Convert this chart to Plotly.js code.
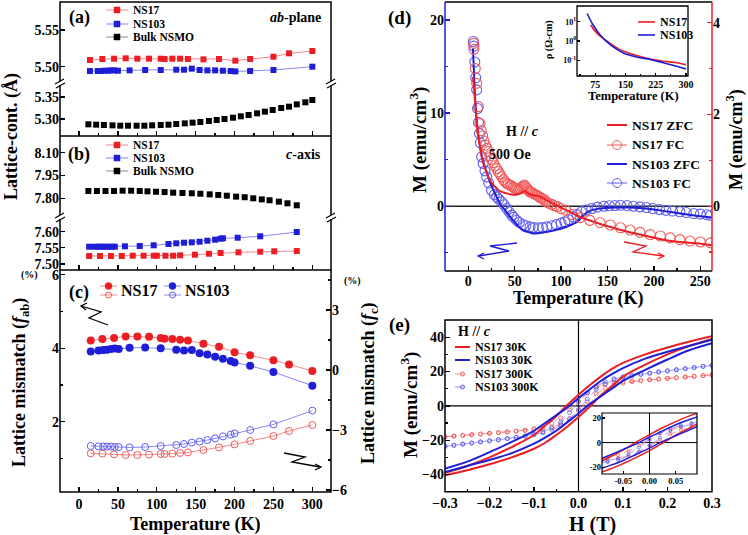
<!DOCTYPE html>
<html>
<head>
<meta charset="utf-8">
<script src="https://cdn.plot.ly/plotly-3.0.1.min.js"></script>
<style>body{margin:0;background:#fff}#plot{width:748px;height:535px}</style>
</head>
<body>
<div id="plot"></div>
<script>
// ---- (a) ab-plane lattice constants
var aT17 = [14,30,45,60,75,90,105,110,120,130,140,160,180,201,220,250,270,300];
var aNS17 = [5.5091,5.5105,5.5109,5.5114,5.5109,5.5109,5.5109,5.5105,5.5109,5.5109,5.5105,5.5100,5.5105,5.5082,5.5105,5.5136,5.5182,5.5214];
var aT103 = [14,24,28,32,37,41,45,50,65,85,105,125,135,145,155,165,175,185,195,201,220,250,300];
var aNS103 = [5.4941,5.4941,5.4941,5.4945,5.4945,5.4950,5.4950,5.4945,5.4950,5.4955,5.4955,5.4959,5.4959,5.4973,5.4955,5.4950,5.4950,5.4945,5.4941,5.4936,5.4941,5.4955,5.5000];
var aTbulk = [12,22,32,43,53,63,74,84,94,105,115,125,136,146,156,167,177,187,198,208,218,229,239,249,260,270,280,291,300];
var aBulk = [5.2879,5.2871,5.2864,5.2856,5.2848,5.2848,5.2848,5.2848,5.2856,5.2864,5.2871,5.2886,5.2901,5.2917,5.2932,5.2955,5.2977,5.3000,5.3030,5.3061,5.3091,5.3129,5.3167,5.3205,5.3250,5.3280,5.3333,5.3379,5.3432];

// ---- (b) c-axis lattice constants
var bTbulk = [12,23,34,45,56,67,78,88,99,110,121,133,145,156,168,179,190,202,213,224,235,245,257,268,280];
var bBulk = [7.848,7.848,7.848,7.848,7.850,7.850,7.848,7.846,7.843,7.841,7.837,7.835,7.833,7.830,7.826,7.822,7.817,7.811,7.807,7.800,7.793,7.787,7.778,7.767,7.754];
var bT103 = [13,20,25,29,33,38,42,46,59,78,96,115,125,135,145,155,165,175,182,185,204,233,280];
var bNS103 = [7.5535,7.5535,7.5535,7.5535,7.5535,7.5535,7.5535,7.5535,7.5547,7.5557,7.5578,7.5619,7.5640,7.5659,7.5671,7.5690,7.5721,7.5752,7.5783,7.5795,7.5814,7.5857,7.5990];
var bT17 = [13,27,41,55,69,83,96,100,111,121,130,149,167,182,205,233,251,280];
var bNS17 = [7.5247,7.5247,7.5247,7.5247,7.5256,7.5256,7.5256,7.5256,7.5256,7.5256,7.5268,7.5287,7.5318,7.5340,7.5361,7.5380,7.5392,7.5402];

// ---- (c) lattice mismatch
var cT17 = [15,30,45,60,75,90,105,110,120,130,140,160,180,200,220,250,270,300];
var cFab17 = [4.21,4.25,4.28,4.32,4.32,4.31,4.28,4.26,4.25,4.23,4.21,4.12,4.04,3.89,3.81,3.67,3.56,3.38];
var cFc17 = [-4.17,-4.18,-4.22,-4.25,-4.25,-4.23,-4.2,-4.2,-4.18,-4.15,-4.12,-4.0,-3.87,-3.72,-3.55,-3.3,-3.05,-2.75];
var cT103 = [15,25,31,36,41,46,51,65,85,105,125,135,145,155,165,175,185,195,200,220,250,300];
var cFab103 = [3.91,3.94,3.95,3.96,3.98,3.99,3.98,4.01,4.02,4.0,3.96,3.94,3.95,3.86,3.83,3.77,3.71,3.65,3.61,3.52,3.35,2.98];
var cFc103 = [-3.8,-3.82,-3.82,-3.83,-3.83,-3.85,-3.85,-3.87,-3.85,-3.8,-3.75,-3.7,-3.63,-3.58,-3.5,-3.42,-3.32,-3.23,-3.17,-3.0,-2.72,-2.03];

// ---- (d) M(T), NS103 on left axis, NS17 on right axis
var dTzfc103 = [5,6.5,8,10,12.6,15,18,23.4,28.8,34,39.6,45,52,59,66.5,71,77,92,106,117,124,131,142,156,174,192,210,228,250,262];
var dMzfc103 = [17.0,13.5,10.5,8.2,6.5,5.2,4.2,2.6,1.36,0.3,-0.43,-1.15,-1.94,-2.6,-2.83,-2.94,-2.87,-2.6,-2.2,-1.7,-0.97,-0.5,-0.25,-0.14,-0.14,-0.25,-0.5,-0.79,-1.07,-1.2];
var dTfc103 = [5.4,6,7,8,9,10,11,12,13,14.4,16,18,19.8,22,25,28,30.6,33,36,38.5,41.4,44,46.8,49,52,55,59,62,66.5,70,75.5,80,84.5,90,95,100,104,108,113,117,122,127,133,139,146,152,158,164,171,178,185,192,199,206,213,220,228,235,243,250,257,261];
var dMfc103 = [17.7,17.2,15.5,13.8,12.5,10.5,9.0,7.8,6.8,5.3,4.6,3.8,3.15,2.5,1.7,1.25,1.0,0.75,0.47,0.15,-0.25,-0.6,-0.97,-1.2,-1.5,-1.75,-1.97,-2.1,-2.22,-2.3,-2.33,-2.3,-2.22,-2.1,-1.97,-1.82,-1.68,-1.45,-1.15,-0.9,-0.6,-0.42,-0.25,-0.1,0,0.05,0.08,0.1,0.07,0,-0.07,-0.14,-0.25,-0.35,-0.45,-0.52,-0.6,-0.68,-0.79,-0.85,-0.92,-0.97];
var dTzfc17 = [4.7,5.5,6.5,7.2,8.5,9.7,11,12.6,14,16.2,18.5,21.6,24,27,30,34,38,41.4,45,48.6,52,56,59,61,63,64.7,67,70,75.5,81,88,95,106,120,138,156,174,192,210,228,246,262];
var dMzfc17 = [2.82,2.75,2.5,2.31,2.0,1.73,1.5,1.29,1.12,0.93,0.8,0.64,0.55,0.46,0.4,0.33,0.3,0.28,0.26,0.25,0.25,0.28,0.31,0.33,0.3,0.28,0.26,0.24,0.22,0.17,0.09,0.02,-0.09,-0.23,-0.36,-0.47,-0.57,-0.65,-0.73,-0.78,-0.81,-0.85];
var dTfc17 = [6,6,7.5,9,10.8,12.6,14,15.5,17,18.5,20,21.6,23.3,25,27,28.8,30.6,32.4,34.2,36,37.8,39.6,41.3,43,45,46.8,48.6,50.4,52.2,54,55.8,57.5,59,60.4,62,63.5,65,66.5,68.2,70,71.8,73.7,75.5,77.3,79.1,81,82.8,84.5,87,90,93,96,100,105,111.5,120.5,131,142,153,164,174.5,185,196,207,217.6,228,239,250,261];
var dMfc17 = [3.42,3.55,3.0,2.68,2.17,1.8,1.65,1.53,1.42,1.33,1.26,1.19,1.1,1.02,0.95,0.88,0.82,0.75,0.7,0.64,0.58,0.53,0.5,0.48,0.46,0.44,0.41,0.39,0.38,0.37,0.38,0.41,0.44,0.46,0.42,0.38,0.34,0.31,0.3,0.28,0.26,0.24,0.22,0.19,0.17,0.15,0.12,0.09,0.06,0.04,0.01,-0.01,-0.05,-0.09,-0.18,-0.25,-0.31,-0.36,-0.41,-0.47,-0.52,-0.57,-0.62,-0.65,-0.69,-0.73,-0.76,-0.78,-0.8];

// ---- (d) inset resistivity
var rT17 = [64,79,104,137,178,211,244,277,300];
var rRho17 = [6.76,2.57,1.0,0.355,0.174,0.117,0.0891,0.0741,0.0575];
var rT103 = [55,70,87,112,145,178,211,244,277,300];
var rRho103 = [26.9,6.76,2.09,0.646,0.240,0.148,0.110,0.0741,0.0490,0.0355];

// ---- (e) M(H) loops, descending branch then ascending branch
var hDesc = [0.3,0.25,0.2,0.15,0.1,0.075,0.05,0.025,0,-0.025,-0.05,-0.075,-0.1,-0.15,-0.2,-0.25,-0.3];
var hAsc = [-0.3,-0.25,-0.2,-0.15,-0.1,-0.075,-0.05,-0.025,0,0.025,0.05,0.075,0.1,0.15,0.2,0.25,0.3];
var m17_30Kd = [40.5,37.5,34,30,25,21.5,17,12,6.5,0.5,-6,-11.5,-17,-24,-30,-35,-39];
var m17_30Ka = [-40.5,-37.5,-34,-30,-25,-21.5,-17,-12,-6.5,-0.5,6,11.5,17,24,30,35,39];
var m103_30Kd = [38.5,35,31.5,27.5,22,18.5,14.5,9.5,4.5,-1,-5.5,-10,-14.5,-21,-27,-32.5,-36.5];
var m103_30Ka = [-38.5,-35,-31.5,-27.5,-22,-18.5,-14.5,-9.5,-4.5,1,5.5,10,14.5,21,27,32.5,36.5];
var h3Desc = [0.3,0.28,0.26,0.24,0.22,0.2,0.18,0.16,0.14,0.12,0.1,0.08,0.06,0.04,0.02,0,-0.02,-0.04,-0.06,-0.08,-0.1,-0.12,-0.14,-0.16,-0.18,-0.2,-0.22,-0.24,-0.26,-0.28,-0.3];
var h3Asc = [-0.3,-0.28,-0.26,-0.24,-0.22,-0.2,-0.18,-0.16,-0.14,-0.12,-0.1,-0.08,-0.06,-0.04,-0.02,0,0.02,0.04,0.06,0.08,0.1,0.12,0.14,0.16,0.18,0.2,0.22,0.24,0.26,0.28,0.3];
var m17_300Kd = [18.0,17.6,17.2,16.8,16.4,16.0,15.6,15.2,14.8,14.4,13.9,13.4,12.5,10.7,7.5,2.8,-2.4,-7.0,-10.2,-12.0,-13.2,-14.1,-14.7,-15.2,-15.6,-16.0,-16.4,-16.8,-17.2,-17.6,-18.0];
var m17_300Ka = [-18.0,-17.6,-17.2,-16.8,-16.4,-16.0,-15.6,-15.2,-14.8,-14.4,-13.9,-13.4,-12.5,-10.7,-7.5,-2.8,2.4,7.0,10.2,12.0,13.2,14.1,14.7,15.2,15.6,16.0,16.4,16.8,17.2,17.6,18.0];
var m103_300Kd = [23.6,23.0,22.3,21.7,21.0,20.4,19.8,19.1,18.4,17.7,16.9,15.8,14.1,11.4,7.6,2.2,-4.0,-9.6,-12.9,-15.1,-16.5,-17.5,-18.3,-19.0,-19.7,-20.3,-21.0,-21.6,-22.3,-23.0,-23.6];
var m103_300Ka = [-23.6,-23.0,-22.3,-21.7,-21.0,-20.4,-19.8,-19.1,-18.4,-17.7,-16.9,-15.8,-14.1,-11.4,-7.6,-2.2,4.0,9.6,12.9,15.1,16.5,17.5,18.3,19.0,19.7,20.3,21.0,21.6,22.3,23.0,23.6];

var RED = 'rgb(235,30,36)', BLUE = 'rgb(30,30,215)';
var LRED = 'rgb(245,135,135)', LBLUE = 'rgb(135,135,245)';
var ORED = 'rgb(240,90,90)', OBLUE = 'rgb(95,95,240)';
var F = 'Liberation Serif, Times New Roman, serif';

// pixel -> paper helpers
function px(x) { return x / 748; }
function py(y) { return 1 - y / 535; }
function ydom(a, b) { return [py(b), py(a)]; }
function xdom(a, b) { return [px(a), px(b)]; }

function tf(s) { return {family: F, size: s || 14, color: '#000', weight: 'bold'}; }

function ax(o) {
  var base = {showgrid: false, zeroline: false, showline: false, ticks: 'inside',
    ticklen: 5, tickwidth: 1.3, tickcolor: '#000', tickfont: tf(14)};
  for (var k in o) base[k] = o[k];
  return base;
}

function loop(hd, md, ha, ma) {
  return {x: hd.concat([null], ha), y: md.concat([null], ma)};
}

var traces = [];
function add(t) { t.showlegend = false; t.cliponaxis = true; traces.push(t); }

// (a)
add({x: aT17, y: aNS17, xaxis: 'x2', yaxis: 'y2', mode: 'lines+markers',
  line: {color: LRED, width: 1}, marker: {symbol: 'square', size: 6, color: RED}});
add({x: aT103, y: aNS103, xaxis: 'x2', yaxis: 'y2', mode: 'lines+markers',
  line: {color: LBLUE, width: 1}, marker: {symbol: 'square', size: 6, color: BLUE}});
add({x: aTbulk, y: aBulk, xaxis: 'x2', yaxis: 'y3', mode: 'markers',
  marker: {symbol: 'square', size: 6, color: '#000'}});
// (b)
add({x: bTbulk, y: bBulk, xaxis: 'x3', yaxis: 'y4', mode: 'markers',
  marker: {symbol: 'square', size: 6, color: '#000'}});
add({x: bT103, y: bNS103, xaxis: 'x3', yaxis: 'y5', mode: 'lines+markers',
  line: {color: LBLUE, width: 1}, marker: {symbol: 'square', size: 6, color: BLUE}});
add({x: bT17, y: bNS17, xaxis: 'x3', yaxis: 'y5', mode: 'lines+markers',
  line: {color: LRED, width: 1}, marker: {symbol: 'square', size: 6, color: RED}});
// (c)
add({x: cT17, y: cFab17, xaxis: 'x', yaxis: 'y', mode: 'lines+markers',
  line: {color: LRED, width: 1}, marker: {size: 8, color: RED}});
add({x: cT103, y: cFab103, xaxis: 'x', yaxis: 'y', mode: 'lines+markers',
  line: {color: LBLUE, width: 1}, marker: {size: 8, color: BLUE}});
add({x: cT17, y: cFc17, xaxis: 'x', yaxis: 'y6', mode: 'lines+markers',
  line: {color: LRED, width: 1}, marker: {symbol: 'circle-open', size: 7, color: ORED, line: {width: 1}}});
add({x: cT103, y: cFc103, xaxis: 'x', yaxis: 'y6', mode: 'lines+markers',
  line: {color: LBLUE, width: 1}, marker: {symbol: 'circle-open', size: 7, color: OBLUE, line: {width: 1}}});
// (d)
add({x: dTfc17, y: dMfc17, xaxis: 'x4', yaxis: 'y8', mode: 'markers',
  marker: {symbol: 'circle-open', size: 10, color: ORED, line: {width: 1.1}}});
add({x: dTfc103, y: dMfc103, xaxis: 'x4', yaxis: 'y7', mode: 'markers',
  marker: {symbol: 'circle-open', size: 10, color: OBLUE, line: {width: 1.1}}});
add({x: dTzfc17, y: dMzfc17, xaxis: 'x4', yaxis: 'y8', mode: 'lines',
  line: {color: RED, width: 2, shape: 'spline'}});
add({x: dTzfc103, y: dMzfc103, xaxis: 'x4', yaxis: 'y7', mode: 'lines',
  line: {color: BLUE, width: 2, shape: 'spline'}});
// (d) inset
add({x: rT17, y: rRho17, xaxis: 'x5', yaxis: 'y9', mode: 'lines',
  line: {color: RED, width: 1.6, shape: 'spline'}});
add({x: rT103, y: rRho103, xaxis: 'x5', yaxis: 'y9', mode: 'lines',
  line: {color: BLUE, width: 1.6, shape: 'spline'}});
// (e) main and inset
[['x6', 'y10', 4, 2], ['x7', 'y11', 3, 1.5]].forEach(function (s) {
  var l;
  l = loop(h3Desc, m17_300Kd, h3Asc, m17_300Ka);
  add({x: l.x, y: l.y, xaxis: s[0], yaxis: s[1], mode: 'lines+markers', connectgaps: false,
    line: {color: LRED, width: 0.8, dash: 'dash'}, marker: {symbol: 'circle-open', size: s[2], color: ORED, line: {width: 0.8}}});
  l = loop(h3Desc, m103_300Kd, h3Asc, m103_300Ka);
  add({x: l.x, y: l.y, xaxis: s[0], yaxis: s[1], mode: 'lines+markers', connectgaps: false,
    line: {color: LBLUE, width: 0.8, dash: 'dash'}, marker: {symbol: 'circle-open', size: s[2], color: OBLUE, line: {width: 0.8}}});
  l = loop(hDesc, m17_30Kd, hAsc, m17_30Ka);
  add({x: l.x, y: l.y, xaxis: s[0], yaxis: s[1], mode: 'lines', connectgaps: false,
    line: {color: RED, width: s[3], shape: 'spline'}});
  l = loop(hDesc, m103_30Kd, hAsc, m103_30Ka);
  add({x: l.x, y: l.y, xaxis: s[0], yaxis: s[1], mode: 'lines', connectgaps: false,
    line: {color: BLUE, width: s[3], shape: 'spline'}});
});

var shapes = [], annotations = [];
function ln(x0, y0, x1, y1, c, w, layer) {
  shapes.push({type: 'line', xref: 'paper', yref: 'paper', x0: px(x0), y0: py(y0), x1: px(x1), y1: py(y1),
    line: {color: c || '#000', width: w || 1.5}, layer: layer || 'above'});
}
function box(x0, y0, x1, y1, w) {
  shapes.push({type: 'rect', xref: 'paper', yref: 'paper', x0: px(x0), y0: py(y1), x1: px(x1), y1: py(y0),
    line: {color: '#000', width: w || 1.5}, layer: 'above'});
}
function path(pts, c, w) {
  var d = pts.map(function (p, i) { return (i ? 'L' : 'M') + px(p[0]).toFixed(5) + ',' + py(p[1]).toFixed(5); }).join(' ');
  shapes.push({type: 'path', xref: 'paper', yref: 'paper', path: d, line: {color: c, width: w || 1.3}, layer: 'above'});
}
function txt(x, y, s, size, o) {
  var a = {xref: 'paper', yref: 'paper', x: px(x), y: py(y), text: s, showarrow: false,
    font: {family: F, size: size, color: '#000', weight: 'bold'}, xanchor: 'center', yanchor: 'middle'};
  for (var k in o || {}) a[k] = o[k];
  annotations.push(a);
}
function sym(x, y, kind, color, size, open) {
  var h = size / 2;
  shapes.push({type: kind === 'square' ? 'rect' : 'circle', xref: 'paper', yref: 'paper',
    x0: px(x - h), x1: px(x + h), y0: py(y + h), y1: py(y - h), layer: 'above',
    fillcolor: open ? 'rgba(0,0,0,0)' : color, line: {color: color, width: open ? 1 : 0.5}});
}
// legend entry built from a line sample, a symbol and a label
function entry(x0, x1, y, lc, lw, kind, mc, ms, open, label, size, dash) {
  shapes.push({type: 'line', xref: 'paper', yref: 'paper', x0: px(x0), x1: px(x1), y0: py(y), y1: py(y),
    line: {color: lc, width: lw, dash: dash || 'solid'}, layer: 'above'});
  if (kind) sym((x0 + x1) / 2, y, kind, mc, ms, open);
  txt(x1 + 3, y, label, size, {xanchor: 'left'});
}
function brk(x, y) {
  shapes.push({type: 'rect', xref: 'paper', yref: 'paper', x0: px(x - 4), x1: px(x + 4), y0: py(y + 2), y1: py(y - 2),
    fillcolor: '#fff', line: {width: 0}, layer: 'above'});
  ln(x - 5, y + 1, x + 4, y - 4, '#000', 1.2);
  ln(x - 4, y + 5, x + 5, y, '#000', 1.2);
}

// frames
box(60, 2, 331, 492);
ln(60, 136, 331, 136);
ln(60, 270, 331, 270);
brk(60, 83); brk(331, 83); brk(60, 217); brk(331, 217);
ln(445, 2, 712, 2); ln(445, 271, 712, 271);
ln(445, 2, 445, 271, BLUE); ln(712, 2, 712, 271, RED);
box(577, 6, 688, 76, 1.3);
box(445, 320, 712, 491.7);
box(602, 413, 697, 474, 1.2);
// reference lines
shapes.push({type: 'line', xref: 'paper', yref: 'y7', x0: px(445), x1: px(712), y0: 0, y1: 0,
  line: {color: '#222', width: 1.6}, layer: 'below'});
shapes.push({type: 'line', xref: 'x6', yref: 'y10', x0: -0.3, x1: 0.3, y0: 0, y1: 0, line: {color: '#000', width: 1.2}, layer: 'below'});
shapes.push({type: 'line', xref: 'x6', yref: 'y10', x0: 0, x1: 0, y0: -50, y1: 50, line: {color: '#000', width: 1.2}, layer: 'below'});
shapes.push({type: 'line', xref: 'x7', yref: 'y11', x0: -0.0906, x1: 0.0906, y0: 0, y1: 0, line: {color: '#000', width: 1}, layer: 'below'});
shapes.push({type: 'line', xref: 'x7', yref: 'y11', x0: 0, x1: 0, y0: -25.5, y1: 24, line: {color: '#000', width: 1}, layer: 'below'});

// squiggle arrows
path([[108, 325], [89, 318], [101, 312], [81, 306]], '#000');
path([[87, 303], [81, 306], [86, 310]], '#000');
path([[284, 453], [305, 457], [292, 462], [320, 467]], '#000');
path([[315, 464], [321, 467], [315, 470]], '#000');
path([[517, 243], [490, 246], [509, 251], [479, 256]], BLUE);
path([[484, 253], [478, 256], [484, 259]], BLUE);
path([[624, 242], [646, 246], [633, 252], [663, 256]], RED);
path([[658, 253], [664, 256], [658, 259]], RED);

// legends
entry(106, 128, 10, LRED, 1, 'square', RED, 6, false, 'NS17', 11.5);
entry(106, 128, 24, LBLUE, 1, 'square', BLUE, 6, false, 'NS103', 11.5);
entry(106, 128, 37, '#888', 1, 'square', '#000', 6, false, 'Bulk NSMO', 11.5);
entry(106, 128, 145, LRED, 1, 'square', RED, 6, false, 'NS17', 11.5);
entry(106, 128, 158, LBLUE, 1, 'square', BLUE, 6, false, 'NS103', 11.5);
entry(106, 128, 171, '#888', 1, 'square', '#000', 6, false, 'Bulk NSMO', 11.5);
// (c) legend, filled over open sample
ln(100, 286, 117, 286, LRED, 1); sym(108.5, 286, 'circle', RED, 7, false);
ln(100, 295, 117, 295, LRED, 1); sym(108.5, 295, 'circle', ORED, 6, true);
txt(119, 290, 'NS17', 16, {xanchor: 'left'});
ln(164, 286, 181, 286, LBLUE, 1); sym(172.5, 286, 'circle', BLUE, 7, false);
ln(164, 295, 181, 295, LBLUE, 1); sym(172.5, 295, 'circle', OBLUE, 6, true);
txt(183, 290, 'NS103', 16, {xanchor: 'left'});
// (d) legend
entry(607, 627, 125, RED, 2, null, null, 0, false, 'NS17 ZFC', 13.5);
entry(607, 627, 145, ORED, 1, 'circle', ORED, 9, true, 'NS17 FC', 13.5);
entry(607, 627, 164, BLUE, 2, null, null, 0, false, 'NS103 ZFC', 13.5);
entry(607, 627, 183, OBLUE, 1, 'circle', OBLUE, 9, true, 'NS103 FC', 13.5);
entry(638, 655, 22, RED, 1.6, null, null, 0, false, 'NS17', 12);
entry(638, 655, 35, BLUE, 1.6, null, null, 0, false, 'NS103', 12);
// (e) legend
txt(456, 331, 'H // <i>c</i>', 14, {xanchor: 'left'});
entry(455, 470, 347, RED, 2, null, null, 0, false, 'NS17 30K', 12);
entry(455, 470, 360, BLUE, 2, null, null, 0, false, 'NS103 30K', 12);
entry(455, 470, 374, LRED, 0.9, 'circle', ORED, 4, true, 'NS17 300K', 12, 'dash');
entry(455, 470, 387, LBLUE, 0.9, 'circle', OBLUE, 4, true, 'NS103 300K', 12, 'dash');

// labels
txt(79, 17, '(a)', 18);
txt(323, 18, '<i>ab</i>-plane', 14, {xanchor: 'right'});
txt(79, 155, '(b)', 18);
txt(323, 155, '<i>c</i>-axis', 14, {xanchor: 'right'});
txt(79, 292, '(c)', 18);
txt(29, 275, '(%)', 10);
txt(352, 281, '(%)', 10);
txt(12, 137, 'Lattice-cont. (Å)', 18, {textangle: -90});
txt(20, 383, 'Lattice mismatch (<i>f</i><sub>ab</sub>)', 18, {textangle: -90});
txt(369, 383, 'Lattice mismatch (<i>f</i><sub>c</sub>)', 18, {textangle: -90});
txt(195, 524, 'Temperature (K)', 18);
txt(399, 18, '(d)', 19);
txt(522, 131, 'H // <i>c</i>', 14);
txt(510, 154, '500 Oe', 14);
txt(418, 140, 'M (emu/cm<sup>3</sup>)', 19, {textangle: -90});
txt(735, 140, 'M (emu/cm<sup>3</sup>)', 18, {textangle: -90});
txt(578, 298, 'Temperature (K)', 18);
txt(549, 40, 'ρ (Ω-cm)', 10, {textangle: -90});
txt(633, 96, 'Temperature (K)', 12.5);
txt(399, 325, '(e)', 19);
txt(409, 405, 'M (emu/cm<sup>3</sup>)', 19, {textangle: -90});
txt(592, 524, 'H (T)', 20);

var layout = {
  width: 748, height: 535,
  margin: {l: 0, r: 0, t: 0, b: 0},
  paper_bgcolor: '#fff', plot_bgcolor: 'rgba(0,0,0,0)',
  showlegend: false,
  font: {family: F, color: '#000'},
  // left column
  xaxis: ax({domain: xdom(60, 331), range: [-24.5, 324], anchor: 'y', dtick: 50, tick0: 0,
    minor: {ticks: 'inside', ticklen: 3, dtick: 25, tickcolor: '#000'}, ticklabelstandoff: 2}),
  xaxis2: ax({domain: xdom(60, 331), range: [-24.5, 324], anchor: 'y3', dtick: 50, tick0: 0,
    showticklabels: false, minor: {ticks: 'inside', ticklen: 3, dtick: 25, tickcolor: '#000'}}),
  xaxis3: ax({domain: xdom(60, 331), range: [-24.5, 324], anchor: 'y5', dtick: 50, tick0: 0,
    showticklabels: false, minor: {ticks: 'inside', ticklen: 3, dtick: 25, tickcolor: '#000'}}),
  yaxis: ax({domain: ydom(270, 492), range: [0.085, 6.13], anchor: 'x', dtick: 2, tick0: 0,
    minor: {ticks: 'inside', ticklen: 3, dtick: 1, tickcolor: '#000'}}),
  yaxis6: ax({domain: ydom(270, 492), range: [-6.1, 5.0], anchor: 'x', overlaying: 'y', side: 'right',
    dtick: 3, tick0: 0, minor: {ticks: 'inside', ticklen: 3, dtick: 1.5, tickcolor: '#000'}}),
  yaxis2: ax({domain: ydom(2, 83), range: [5.4778, 5.5881], anchor: 'x2', tickvals: [5.50, 5.55], ticktext: ['5.50', '5.55']}),
  yaxis3: ax({domain: ydom(83, 136), range: [5.2614, 5.3818], anchor: 'x2', tickvals: [5.30, 5.35], ticktext: ['5.30', '5.35']}),
  yaxis4: ax({domain: ydom(136, 217), range: [7.677, 8.2099], anchor: 'x3', tickvals: [7.80, 7.95, 8.10], ticktext: ['7.80', '7.95', '8.10']}),
  yaxis5: ax({domain: ydom(217, 270), range: [7.4814, 7.6455], anchor: 'x3', tickvals: [7.50, 7.55, 7.60], ticktext: ['7.50', '7.55', '7.60']}),
  // (d)
  xaxis4: ax({domain: xdom(445, 712), range: [-25.1, 262.6], anchor: 'y7', dtick: 50, tick0: 0,
    minor: {ticks: 'inside', ticklen: 3, dtick: 25, tickcolor: '#000'}}),
  yaxis7: ax({domain: ydom(2, 271), range: [-6.96, 21.94], anchor: 'x4', dtick: 10, tick0: 0, tickcolor: BLUE,
    minor: {ticks: 'inside', ticklen: 3, dtick: 5, tickcolor: BLUE}}),
  yaxis8: ax({domain: ydom(2, 271), range: [-1.413, 4.452], anchor: 'x4', overlaying: 'y7', side: 'right',
    dtick: 2, tick0: 0, tickcolor: RED, minor: {ticks: 'inside', ticklen: 3, dtick: 1, tickcolor: RED}}),
  xaxis5: ax({domain: xdom(577, 688), range: [30, 305], anchor: 'y9', tickvals: [75, 150, 225, 300],
    ticklen: 3, tickfont: tf(10), ticklabelstandoff: 1, minor: {ticks: 'inside', ticklen: 2, dtick: 37.5, tick0: 0, tickcolor: '#000'}}),
  yaxis9: ax({domain: ydom(6, 76), type: 'log', range: [-1.82, 1.82], anchor: 'x5', tickvals: [0.1, 1, 10],
    ticktext: ['10<sup>-1</sup>', '10<sup>0</sup>', '10<sup>1</sup>'], ticklen: 3, tickfont: tf(8)}),
  // (e)
  xaxis6: ax({domain: xdom(445, 712), range: [-0.3, 0.3], anchor: 'y10', dtick: 0.1, tick0: 0, tickformat: '.1f',
    ticklabelstandoff: 1, minor: {ticks: 'inside', ticklen: 3, dtick: 0.05, tickcolor: '#000'}}),
  yaxis10: ax({domain: ydom(320, 491.7), range: [-50, 50], anchor: 'x6', dtick: 20, tick0: 0,
    minor: {ticks: 'inside', ticklen: 3, dtick: 10, tickcolor: '#000'}}),
  xaxis7: ax({domain: xdom(602, 697), range: [-0.0906, 0.0906], anchor: 'y11', tickvals: [-0.05, 0, 0.05],
    ticktext: ['-0.05', '0.00', '0.05'], ticklen: 3, tickfont: tf(8.5)}),
  yaxis11: ax({domain: ydom(413, 474), range: [-25.5, 24], anchor: 'x7', tickvals: [-20, 0, 20],
    ticktext: ['-20', '0', '20'], ticklen: 3, tickfont: tf(8.5)}),
  shapes: shapes,
  annotations: annotations
};

Plotly.newPlot('plot', traces, layout, {staticPlot: true});
</script>
</body>
</html>
